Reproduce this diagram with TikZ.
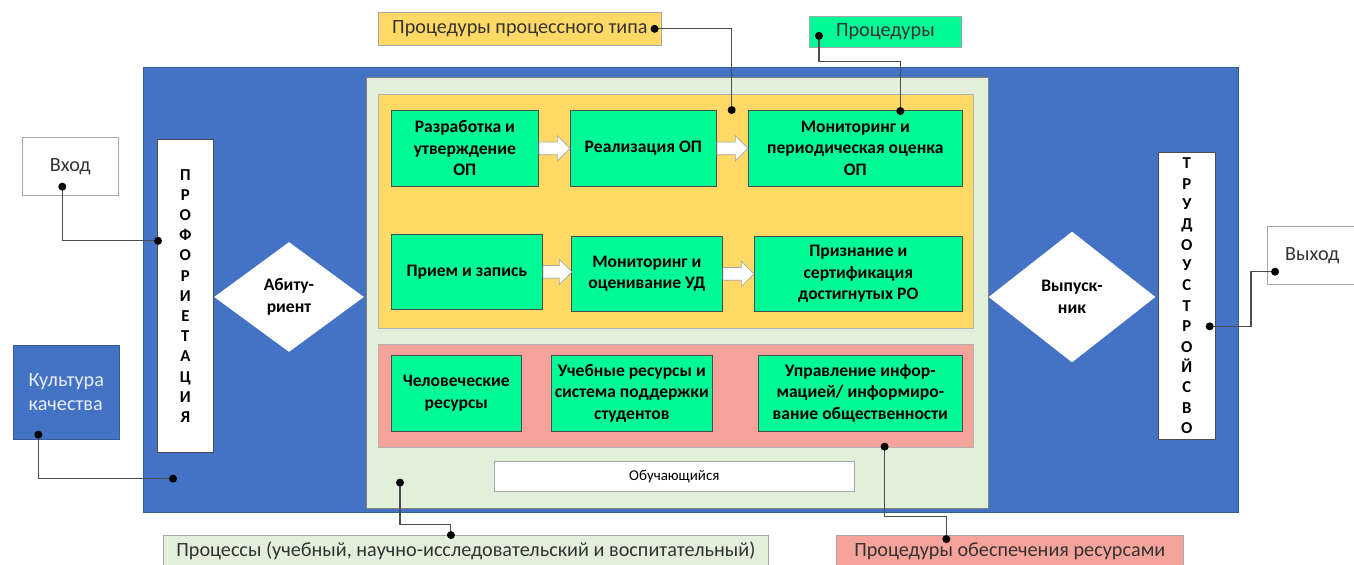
\documentclass[tikz,border=0pt]{standalone}
\usepackage{fontspec}
\setmainfont{Carlito}
\usetikzlibrary{arrows.meta,positioning,shapes.geometric,shapes.arrows}
\definecolor{fonblue}{HTML}{4472C4}
\definecolor{procgreen}{HTML}{E2EFDA}
\definecolor{procyellow}{HTML}{FFD966}
\definecolor{respink}{HTML}{F6A39B}
\definecolor{boxgreen}{HTML}{00FA96}

\begin{document}
\begin{tikzpicture}[x=0.02cm, y=-0.02cm, area/.style = {draw=gray!70, anchor=north west, inner sep=0pt}, opbox/.style = {area, draw=black!70, fill=boxgreen, align=center, font=\bfseries\fontsize{10}{12.2}\selectfont}, tag/.style = {area, draw=gray!70, align=center, text=black!80, font=\fontsize{11.5}{13.5}\selectfont}, fatarrow/.style = {single arrow, draw=gray!70, fill=white, inner sep=3.4pt, single arrow head extend=3.6pt, minimum height=0.62cm}, gate/.style = {diamond, fill=white, inner sep=0pt, align=center, font=\bfseries\fontsize{10}{12.5}\selectfont}, letters/.style = {area, draw=black!70, fill=white, align=center}, link/.style = {draw=black!70, line width=0.6pt, {Circle[length=4.5pt,black]}-{Circle[length=4.5pt,black]}}]

    \useasboundingbox (0,0) rectangle (1354,564);

    % areas
    \node[area, draw=fonblue!80!black, fill=fonblue, minimum width=21.9cm, minimum height=8.9cm] (fon) at (143,67) {};
    \node[area, draw=gray, fill=procgreen, minimum width=12.44cm, minimum height=8.62cm] (proc) at (366,77) {};
    \node[area, draw=gray!60, fill=procyellow, minimum width=11.9cm, minimum height=4.68cm] (ptype) at (378,94) {};
    \node[area, draw=gray!60, fill=respink, minimum width=11.9cm, minimum height=2.06cm] (res) at (378,344) {};

    % process procedures
    \node[opbox, minimum width=2.94cm, minimum height=1.52cm] (razr) at (391,110) {Разработка и\\утверждение\\ОП};
    \node[opbox, minimum width=2.92cm, minimum height=1.52cm] (real) at (570,110) {Реализация ОП};
    \node[opbox, minimum width=4.28cm, minimum height=1.52cm] (monit) at (748,110) {Мониторинг и\\периодическая оценка\\ОП};
    \node[opbox, minimum width=3.02cm, minimum height=1.5cm] (priem) at (391,234) {Прием и запись};
    \node[opbox, minimum width=3.02cm, minimum height=1.5cm] (ocen) at (571,236) {Мониторинг и\\оценивание УД};
    \node[opbox, minimum width=4.16cm, minimum height=1.5cm] (prizn) at (754,236) {Признание и\\сертификация\\достигнутых РО};

    \node[fatarrow, right=0pt of razr] (a1) {};
    \node[fatarrow, right=0pt of real] (a2) {};
    \node[fatarrow, right=0pt of priem, minimum height=0.58cm] (a3) {};
    \node[fatarrow, right=0pt of ocen] (a4) {};

    % resources
    \node[opbox, minimum width=2.6cm, minimum height=1.52cm] (chel) at (391,355) {Человеческие\\ресурсы};
    \node[opbox, minimum width=3.22cm, minimum height=1.52cm] (ucheb) at (551,355) {Учебные ресурсы и\\система поддержки\\студентов};
    \node[opbox, minimum width=4.08cm, minimum height=1.52cm] (uprav) at (758,355) {Управление инфор-\\мацией/ информиро-\\вание общественности};
    \node[area, fill=white, minimum width=7.2cm, minimum height=0.6cm, font=\fontsize{8.5}{10}\selectfont] (obuch) at (494,461) {Обучающийся};

    % entry and exit
    \node[letters, minimum width=1.12cm, minimum height=6.26cm, font=\bfseries\fontsize{9.5}{11.5}\selectfont] (prof) at (157,139) {П\\Р\\О\\Ф\\О\\Р\\И\\Е\\Т\\А\\Ц\\И\\Я};
    \node[letters, minimum width=1.14cm, minimum height=5.74cm, font=\bfseries\fontsize{9.5}{11.6}\selectfont] (trud) at (1158,152) {Т\\Р\\У\\Д\\О\\У\\С\\Т\\Р\\О\\Й\\С\\В\\О};
    \node[gate, minimum width=3cm, minimum height=2.2cm] (abit) at (289,297) {Абиту-\\риент};
    \node[gate, minimum width=3.34cm, minimum height=2.62cm] (vyp) at (1072,297) {Выпуск-\\ник};

    \node[tag, fill=white, minimum width=1.92cm, minimum height=1.16cm] (vhod) at (22,137) {Вход};
    \node[tag, draw=fonblue!80!black, fill=fonblue, text=white!88!fonblue, align=left, minimum width=2.12cm, minimum height=1.88cm] (kult) at (13,345) {Культура\\качества};
    \node[tag, fill=white, minimum width=1.8cm, minimum height=1.16cm] (vyhod) at (1267,226) {Выход};

    % labels
    \node[tag, fill=procyellow, minimum width=5.66cm, minimum height=0.66cm] (lptype) at (378,12) {Процедуры процессного типа};
    \node[tag, fill=boxgreen, minimum width=3.04cm, minimum height=0.62cm] (lproc) at (809,16) {Процедуры};
    \node[tag, fill=procgreen, minimum width=12.1cm, minimum height=0.62cm] (lprocs) at (163,535) {Процессы (учебный, научно-исследовательский и воспитательный)};
    \node[tag, fill=respink, minimum width=6.94cm, minimum height=0.62cm] (lres) at (836,535) {Процедуры обеспечения ресурсами};

    % links
    \draw[link] ([xshift=-0.22cm]lptype.east) -| ([xshift=0.3cm,yshift=-0.08cm]real.north east);
    \draw[link] ([xshift=0.2cm]lproc.west) -- ++(0,30) -| ([xshift=0.9cm,yshift=-0.1cm]monit.north);
    \draw[link] ([xshift=-0.16cm,yshift=0.26cm]vhod.south) |- ([xshift=0.1cm,yshift=1.1cm]prof.west);
    \draw[link] ([xshift=-0.56cm,yshift=0.18cm]kult.south) |- ([xshift=0.68cm,yshift=0.68cm]fon.south west);
    \draw[link] ([xshift=0.68cm,yshift=0.6cm]proc.south west) -- ++(0,46) -| ([xshift=5.76cm,yshift=-0.08cm]lprocs.north west);
    \draw[link] ([xshift=-1.78cm,yshift=0.1cm]res.south east) -- ++(0,74) -| ([xshift=-1.27cm,yshift=-0.16cm]lres.north);
    \draw[link] ([xshift=0.24cm,yshift=0.26cm]vyhod.south west) -- ++(-28,0) |- ([xshift=-0.2cm,yshift=-0.61cm]trud.east);

\end{tikzpicture}
\end{document}
